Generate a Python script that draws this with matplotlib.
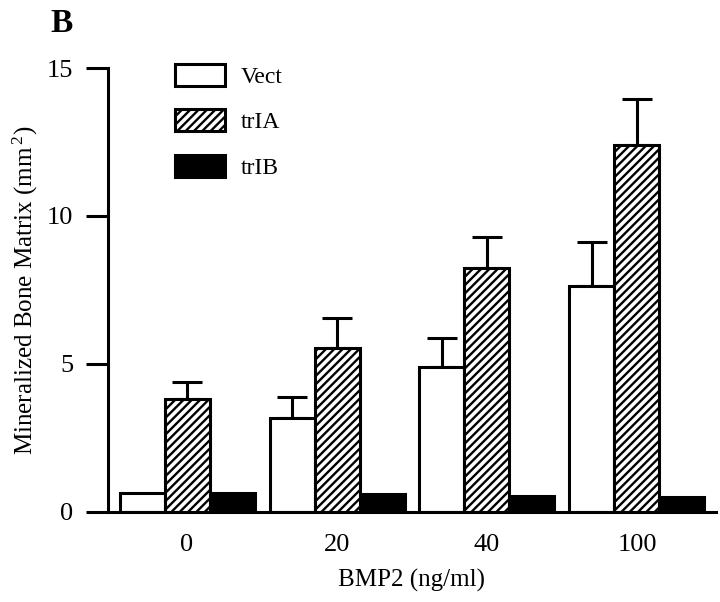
import matplotlib
matplotlib.use("Agg")
import matplotlib.pyplot as plt
import numpy as np

plt.rcParams['font.family'] = ['Liberation Serif', 'DejaVu Serif']
plt.rcParams['mathtext.fontset'] = 'custom'
plt.rcParams['mathtext.rm'] = 'Liberation Serif'
plt.rcParams['mathtext.it'] = 'Liberation Serif:italic'
plt.rcParams['mathtext.bf'] = 'Liberation Serif:bold'
plt.rcParams['hatch.linewidth'] = 1.7

categories = ['0', '20', '40', '100']
series = ['Vect', 'trIA', 'trIB']
vect = [0.64, 3.18, 4.90, 7.64]
vect_err = [0.0, 0.71, 0.98, 1.48]
tria = [3.82, 5.54, 8.24, 12.40]
tria_err = [0.57, 1.01, 1.05, 1.55]
trib = [0.64, 0.61, 0.54, 0.51]

fig = plt.figure(figsize=(7.2, 6.02), dpi=100)
ax = fig.add_axes([108/720, 1-512/602, (716-108)/720, (512-68)/602])

x = np.arange(len(categories))
w = 0.3
lw = 2.2
b1 = ax.bar(x - w, vect, w, color='white', edgecolor='black', linewidth=lw, label='Vect', zorder=2)
b2 = ax.bar(x, tria, w, color='white', edgecolor='black', linewidth=lw, hatch='////', label='trIA', zorder=2)
b3 = ax.bar(x + w, trib, w, color='black', edgecolor='black', linewidth=lw, label='trIB', zorder=2)

ve = np.array(vect_err)
mask = ve > 0
ax.errorbar((x - w)[mask], np.array(vect)[mask], yerr=[np.zeros(mask.sum()), ve[mask]],
            fmt='none', ecolor='black', elinewidth=2.2, capsize=10.5, capthick=2.2, zorder=1)
ax.errorbar(x, tria, yerr=[np.zeros(len(x)), tria_err],
            fmt='none', ecolor='black', elinewidth=2.2, capsize=10.5, capthick=2.2, zorder=1)

ax.set_xlim(-0.527, 3.527)
ax.set_ylim(0, 15)
ax.set_yticks([0, 5, 10, 15])
ax.set_xticks(x)
ax.set_xticklabels(categories)
for s in ['top', 'right']:
    ax.spines[s].set_visible(False)
for s in ['left', 'bottom']:
    ax.spines[s].set_linewidth(2.2)
ax.tick_params(axis='y', direction='out', length=16, width=2.2, labelsize=19, pad=9)
ax.tick_params(axis='x', length=0, labelsize=19, pad=16)

ax.set_xlabel('BMP2 (ng/ml)', fontsize=18, labelpad=9)
ax.set_ylabel('Mineralized Bone Matrix (mm$\\,^{2}$)', fontsize=18, labelpad=5)

fig.text(50/720, 1-32/602, 'B', fontsize=24, fontweight='bold', ha='left', va='baseline')

leg = ax.legend(handles=[b1, b2, b3], loc='upper left',
                bbox_to_anchor=(175/720, 1-64/602), bbox_transform=fig.transFigure,
                frameon=False, fontsize=17, handlelength=2.1, handleheight=1.06,
                labelspacing=0.9, handletextpad=0.7, borderpad=0, borderaxespad=0)

fig.savefig('out.png', dpi=100, facecolor='white')
